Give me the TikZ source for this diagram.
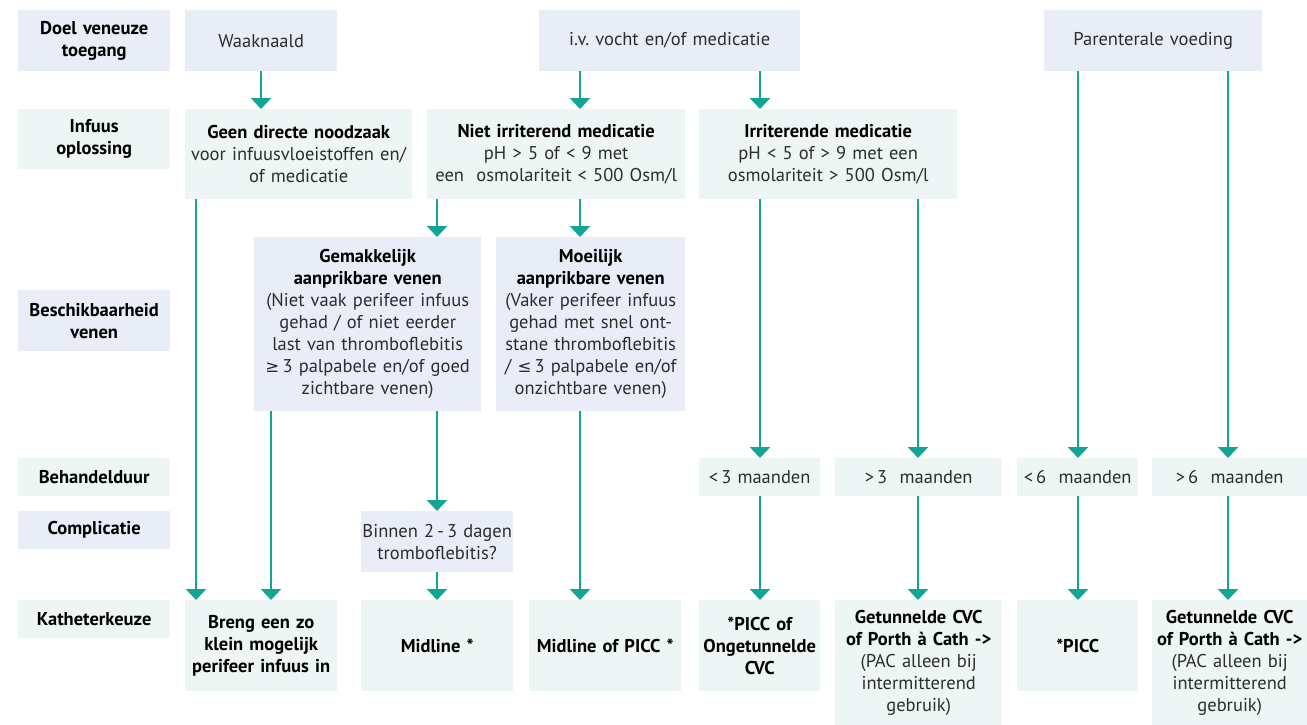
\documentclass[tikz,border=0pt]{standalone}
\usepackage{fontspec}
\setmainfont{PT Sans}
\newfontfamily\symfont[Scale=0.9]{DejaVu Sans}
\usetikzlibrary{arrows.meta}
\definecolor{lavblue}{RGB}{233,237,248}
\definecolor{mintgreen}{RGB}{237,246,244}
\definecolor{arrowteal}{RGB}{17,166,148}
\definecolor{inktext}{RGB}{45,45,45}
\newcommand{\gesym}{{\symfont ≥}}
\newcommand{\lesym}{{\symfont ≤}}
\newcommand{\hd}[1]{{\bfseries\color{black}#1}}

\begin{document}
\frenchspacing
\begin{tikzpicture}[
    x=1pt, y=-1pt,
    box/.style={rectangle, anchor=north west, inner sep=0pt, align=center, text=inktext, font=\fontsize{18.5}{22}\selectfont},
    lav/.style={box, fill=lavblue},
    mint/.style={box, fill=mintgreen},
    rowlabel/.style={text width=152pt, font=\fontsize{18.5}{22}\selectfont\bfseries, text=black},
    arr/.style={draw=arrowteal, line width=2.6pt, -{Triangle[width=20pt,length=11pt]}}
]
\useasboundingbox (0,0) rectangle (1307,725);

% Row labels
\node[lav,rowlabel,minimum height=61pt] (doel) at (18,10) {Doel veneuze\\toegang};
\node[mint,rowlabel,minimum height=60pt] (infuus) at (18,109) {Infuus\\oplossing};
\node[lav,rowlabel,minimum height=61pt] (beschik) at (18,290) {Beschikbaarheid\\venen};
\node[mint,rowlabel,minimum height=38pt] (duur) at (18,458) {Behandelduur};
\node[lav,rowlabel,minimum height=38pt] (compl) at (18,511) {Complicatie};
\node[mint,rowlabel,minimum height=38pt] (kath) at (18,600) {Katheterkeuze};

% Doel veneuze toegang
\node[lav,text width=152pt,minimum height=61pt] (waak) at (185,10) {Waaknaald};
\node[lav,text width=261pt,minimum height=61pt] (ivvocht) at (539,10) {i.v. vocht en/of medicatie};
\node[lav,text width=218pt,minimum height=61pt] (parent) at (1044,10) {Parenterale voeding};

% Infuus oplossing
\node[mint,text width=227pt,minimum height=90pt] (geen) at (185,109)
    {\hd{Geen directe noodzaak}\\voor infuusvloeistoffen en/\\of medicatie};
\node[mint,text width=258pt,minimum height=90pt] (nietirr) at (427,109)
    {\hd{Niet irriterend medicatie}\\pH > 5 of < 9 met\\een\ \ osmolariteit < 500 Osm/l};
\node[mint,text width=258pt,minimum height=90pt] (irr) at (699,109)
    {\hd{Irriterende medicatie}\\pH < 5 of > 9 met een\\osmolariteit > 500 Osm/l};

% Beschikbaarheid venen
\node[lav,text width=227pt,minimum height=174pt] (makkelijk) at (254,237)
    {\hd{Gemakkelijk}\\\hd{aanprikbare venen}\\(Niet vaak perifeer infuus\\gehad / of niet eerder\\last van thromboflebitis\\\gesym\,3 palpabele en/of goed\\zichtbare venen)};
\node[lav,text width=189pt,minimum height=174pt] (moeilijk) at (496,237)
    {\hd{Moeilijk}\\\hd{aanprikbare venen}\\(Vaker perifeer infuus\\gehad met snel ont-\\stane thromboflebitis\\/ \lesym\,3 palpabele en/of\\onzichtbare venen)};

% Behandelduur
\node[mint,text width=121pt,minimum height=38pt] (kort3) at (699,458) {<\,3 maanden};
\node[mint,text width=167pt,minimum height=38pt] (lang3) at (835,458) {>\,3\ \ maanden};
\node[mint,text width=121pt,minimum height=38pt] (kort6) at (1017,458) {<\,6\ \ maanden};
\node[mint,text width=155pt,minimum height=38pt] (lang6) at (1152,458) {>\,6\ \ maanden};

% Complicatie
\node[lav,text width=152pt,minimum height=61pt] (binnen) at (361,511) {\mbox{Binnen 2\,-\,3 dagen}\\tromboflebitis?};

% Katheterkeuze
\node[mint,text width=152pt,minimum height=91pt] (breng) at (185,600)
    {\hd{Breng een zo}\\\hd{klein mogelijk}\\\hd{perifeer infuus in}};
\node[mint,text width=152pt,minimum height=91pt] (midline) at (361,600) {\hd{Midline *}};
\node[mint,text width=152pt,minimum height=91pt] (midpicc) at (529,600) {\hd{Midline of PICC *}};
\node[mint,text width=121pt,minimum height=91pt] (picca) at (699,600)
    {\hd{*PICC of}\\\hd{Ongetunnelde}\\\hd{CVC}};
\node[mint,text width=167pt,minimum height=125pt] (tunnela) at (835,600)
    {\hd{Getunnelde CVC}\\\hd{of Porth à Cath ->}\\(PAC alleen bij\\intermitterend\\gebruik)};
\node[mint,text width=121pt,minimum height=91pt] (piccb) at (1017,600) {\hd{*PICC}};
\node[mint,text width=155pt,minimum height=125pt] (tunnelb) at (1152,600)
    {\hd{Getunnelde CVC}\\\hd{of Porth à Cath ->}\\(PAC alleen bij\\intermitterend\\gebruik)};

% Columns of the connectors
\coordinate (colA) at (196,0);
\coordinate (colB) at (261,0);
\coordinate (colC) at (271,0);
\coordinate (colD) at (437,0);
\coordinate (colE) at (580,0);
\coordinate (colF) at (760,0);
\coordinate (colG) at (918,0);
\coordinate (colH) at (1078,0);
\coordinate (colI) at (1228,0);

% Connections
\draw[arr] (waak.south -| colB) -- (geen.north -| colB);
\draw[arr] (ivvocht.south -| colE) -- (nietirr.north -| colE);
\draw[arr] (ivvocht.south -| colF) -- (irr.north -| colF);

\draw[arr] (geen.south -| colA) -- (breng.north -| colA);
\draw[arr] (nietirr.south -| colD) -- (makkelijk.north -| colD);
\draw[arr] (nietirr.south -| colE) -- (moeilijk.north -| colE);

\draw[arr] (makkelijk.south -| colC) -- (breng.north -| colC);
\draw[arr] (makkelijk.south -| colD) -- (binnen.north -| colD);
\draw[arr] (binnen.south -| colD) -- (midline.north -| colD);
\draw[arr] (moeilijk.south -| colE) -- (midpicc.north -| colE);

\draw[arr] (irr.south -| colF) -- (kort3.north -| colF);
\draw[arr] (irr.south -| colG) -- (lang3.north -| colG);
\draw[arr] (parent.south -| colH) -- (kort6.north -| colH);
\draw[arr] (parent.south -| colI) -- (lang6.north -| colI);

\draw[arr] (kort3.south -| colF) -- (picca.north -| colF);
\draw[arr] (lang3.south -| colG) -- (tunnela.north -| colG);
\draw[arr] (kort6.south -| colH) -- (piccb.north -| colH);
\draw[arr] (lang6.south -| colI) -- (tunnelb.north -| colI);

\end{tikzpicture}
\end{document}
